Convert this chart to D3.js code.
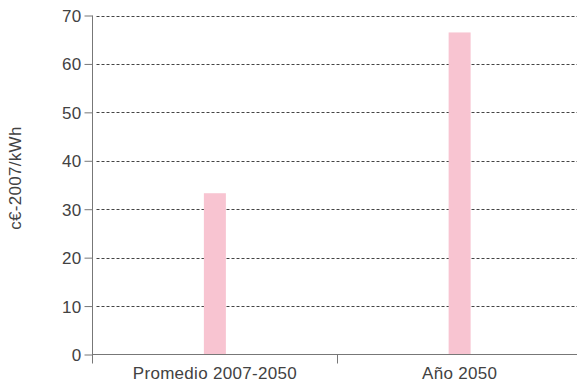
<!DOCTYPE html>
<html><head><meta charset="utf-8">
<script src="https://cdn.jsdelivr.net/npm/d3@7"></script>
<style>body{margin:0;background:#fff}svg{display:block}text{font-family:"Liberation Sans",Arial,sans-serif}</style>
</head><body>
<svg id="c" width="577" height="384"></svg>
<script>
const categories = ["Promedio 2007-2050", "Año 2050"];
const values = [33.3, 66.5];
const yTicks = [0, 10, 20, 30, 40, 50, 60, 70];
const yLabel = "c€-2007/kWh";

const svg = d3.select("#c");
const x0 = 92.5, x1 = 582, yBottom = 354.5, yTop = 15.5;
const x = d3.scaleBand().domain(categories).range([x0, x1]);
const y = d3.scaleLinear().domain([0, 70]).range([yBottom, yTop]);
const fs = 17, ls = "0.3px", txt = "#424242";

// grid lines
svg.append("g").selectAll("line").data(yTicks.filter(d => d > 0)).join("line")
  .attr("x1", x0 + 4).attr("x2", 577)
  .attr("y1", d => Math.round(y(d)) + 0.5).attr("y2", d => Math.round(y(d)) + 0.5)
  .attr("stroke", "#444").attr("stroke-width", 1).attr("stroke-dasharray", "3,2");

// bars
const bw = 22;
svg.append("g").selectAll("rect").data(values).join("rect")
  .attr("x", (d, i) => x(categories[i]) + x.bandwidth() / 2 - bw / 2)
  .attr("width", bw)
  .attr("y", d => y(d))
  .attr("height", d => yBottom - y(d))
  .attr("fill", "#f8c4d1");

// y axis
const yAxis = svg.append("g").attr("transform", `translate(${x0},0)`)
  .call(d3.axisLeft(y).tickValues(yTicks).tickSize(8).tickPadding(3).tickSizeOuter(0));
yAxis.select(".domain").remove();
yAxis.selectAll(".tick line").attr("stroke", "#777");
yAxis.selectAll("text").attr("font-size", fs).attr("fill", txt).attr("dy", "0.35em")
  .style("letter-spacing", ls);
svg.append("line").attr("x1", x0).attr("x2", x0).attr("y1", yTop).attr("y2", yBottom + 9)
  .attr("stroke", "#777");

// x axis
svg.append("line").attr("x1", x0).attr("x2", 577).attr("y1", yBottom).attr("y2", yBottom)
  .attr("stroke", "#777");
const xAxis = svg.append("g").attr("transform", `translate(0,${yBottom})`)
  .call(d3.axisBottom(x).tickSize(0).tickPadding(12));
xAxis.select(".domain").remove();
xAxis.selectAll("text").attr("font-size", fs).attr("fill", txt).style("letter-spacing", ls);
// category separator ticks
svg.append("g").selectAll("line").data(categories.slice(1)).join("line")
  .attr("x1", d => Math.round(x(d)) + 0.5).attr("x2", d => Math.round(x(d)) + 0.5)
  .attr("y1", yBottom).attr("y2", yBottom + 9).attr("stroke", "#777");

// y label
svg.append("text").attr("transform", `translate(21,${178}) rotate(-90)`)
  .attr("text-anchor", "middle").attr("font-size", fs).attr("fill", txt)
  .style("letter-spacing", ls).text(yLabel);
</script>
</body></html>
